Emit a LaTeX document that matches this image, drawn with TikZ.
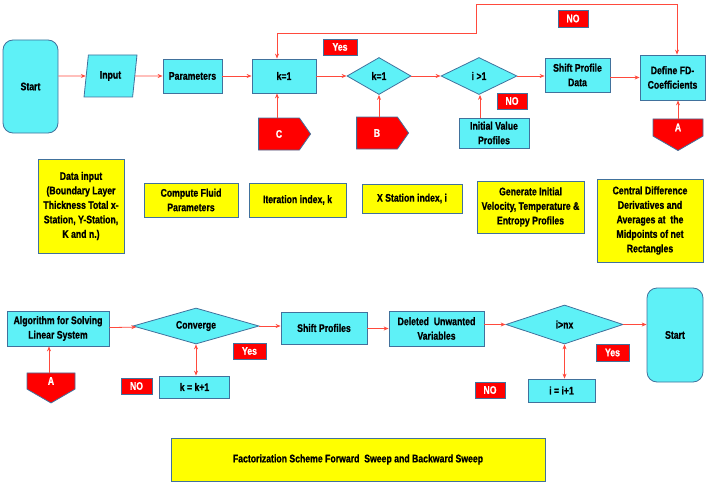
\documentclass[tikz,border=0pt]{standalone}
\usepackage{fontspec}
\setmainfont{Liberation Sans}[FakeStretch=0.79, BoldFeatures={FakeBold=0.8}]
\usetikzlibrary{shapes.geometric,shapes.symbols,arrows.meta,calc}
\definecolor{cy}{HTML}{5EF1F7}
\definecolor{bd}{HTML}{41719C}
\definecolor{yl}{HTML}{FFFF00}
\definecolor{rd}{HTML}{FF0000}
\definecolor{ar}{HTML}{FF4A3D}
\begin{document}
\begin{tikzpicture}[x=1pt,y=-1pt,
  font=\fontsize{11}{14.5}\selectfont\bfseries,
  box/.style={draw=bd, fill=cy, line width=0.8pt, inner sep=1pt, align=center},
  ybox/.style={draw=bd, fill=yl, line width=0.8pt, inner sep=1pt, align=center},
  rbox/.style={draw=bd, fill=rd, line width=0.8pt, inner sep=0pt, text=white, minimum width=32, minimum height=16},
  term/.style={box, rounded corners=10pt},
  dec/.style={draw=bd, fill=cy, line width=0.8pt, diamond, inner sep=0pt, aspect=2},
  conn/.style={draw=bd, fill=rd, line width=0.8pt, signal, inner sep=0pt, text=white},
  arr/.style={draw=ar, line width=0.8pt, -{Stealth[length=5pt,width=4pt]}},
  darr/.style={draw=ar, line width=0.8pt, {Stealth[length=5pt,width=4pt]}-{Stealth[length=5pt,width=4pt]}}
]
\useasboundingbox (0,0) rectangle (708,484);
% top row
\node[term, minimum width=55, minimum height=93] (start1) at (30.5,86.5) {Start};
\node[box, trapezium, trapezium left angle=79, trapezium right angle=101, trapezium stretches=true, minimum width=53, minimum height=42] (input) at (110.5,76) {Input};
\node[box, minimum width=59, minimum height=34] (params) at (192.5,76) {Parameters};
\node[box, minimum width=64, minimum height=34] (k1) at (284,76) {k=1};
\node[dec, minimum width=64, minimum height=37] (dk) at (379,76) {k=1};
\node[dec, minimum width=76, minimum height=37] (di) at (479,76) {i >1};
\node[box, minimum width=65, minimum height=34] (shift) at (577.5,75) {Shift Profile\\Data};
\node[box, minimum width=65, minimum height=45] (fd) at (672.5,77.5) {Define FD-\\Coefficients};
\node[conn, signal to=east, signal pointer angle=110, minimum width=52, minimum height=32] (C) at (279,134) {C};
\node[conn, signal to=east, signal pointer angle=110, minimum width=52, minimum height=32] (B) at (377,133) {B};
\node[box, minimum width=70, minimum height=30] (ivp) at (494,133) {Initial Value\\Profiles};
\node[conn, signal to=south, signal pointer angle=120, minimum width=50, minimum height=19] (A1) at (678,127.5) {\raisebox{-3pt}{A}};
\node[rbox, minimum width=34] (yes1) at (340,47) {Yes};
\node[rbox, minimum width=30, minimum height=17] (no1) at (573,18.5) {NO};
\node[rbox, minimum width=30] (no2) at (512,101) {NO};
% top arrows
\draw[arr] (start1.east |- input) -- (input);
\draw[arr] (input) -- (params);
\draw[arr] (params) -- (k1);
\draw[arr] (k1) -- (dk);
\draw[arr] (dk) -- (di);
\draw[arr] (di) -- (shift.west |- di);
\draw[arr] (shift.east |- fd) -- (fd);
\draw[arr] ([xshift=-2pt]C.north) -- ([xshift=-2pt]C.north |- k1.south);
\draw[arr] ([xshift=2pt]B.north) -- ([xshift=2pt]B.north |- dk.south);
\draw[arr] ([xshift=-14pt]ivp.north) -- ([xshift=-14pt]ivp.north |- di.south);
\draw[arr] (A1.north) -- (A1.north |- fd.south);
\draw[darr] ([xshift=-7pt]k1.north) |- (476,33) |- (677,4) -- (677,4 |- fd.north);
% yellow boxes
\node[ybox, minimum width=86, minimum height=94] (y1) at (81,206) {Data input\\(Boundary Layer\\Thickness Total x-\\Station, Y-Station,\\K and n.)};
\node[ybox, minimum width=94, minimum height=34] (y2) at (191,200) {Compute Fluid\\Parameters};
\node[ybox, minimum width=97, minimum height=34] (y3) at (297.5,200) {Iteration index, k};
\node[ybox, minimum width=100, minimum height=29] (y4) at (412,198.5) {X Station index, i};
\node[ybox, minimum width=107, minimum height=52] (y5) at (530.5,207) {Generate Initial\\Velocity, Temperature \&\\Entropy Profiles};
\node[ybox, minimum width=106, minimum height=83] (y6) at (650,220.5) {Central Difference\\Derivatives and\\Averages at~ the\\Midpoints of net\\Rectangles};
% bottom row
\node[box, minimum width=102, minimum height=35] (alg) at (58,328.5) {Algorithm for Solving\\Linear System};
\node[dec, minimum width=126, minimum height=36] (conv) at (196,326) {Converge};
\node[box, minimum width=86, minimum height=32] (shiftp) at (324,328) {Shift Profiles};
\node[box, minimum width=95, minimum height=35] (del) at (436.5,328.5) {Deleted~ Unwanted\\Variables};
\node[dec, minimum width=117, minimum height=39] (dnx) at (564.5,324.5) {i>nx};
\node[term, minimum width=56, minimum height=94] (start2) at (675,335) {Start};
\node[conn, signal to=south, signal pointer angle=120, minimum width=48, minimum height=18] (A2) at (51,381) {\raisebox{-3pt}{A}};
\node[box, minimum width=70, minimum height=22] (kk) at (194.5,387) {k = k+1};
\node[rbox, minimum width=33] (yes2) at (249.5,351) {Yes};
\node[rbox, minimum width=31] (no3) at (136.5,386) {NO};
\node[box, minimum width=67, minimum height=23] (ii) at (561.5,390.5) {i = i+1};
\node[rbox, minimum width=33, minimum height=17] (yes3) at (612.5,352.5) {Yes};
\node[rbox, minimum width=30] (no4) at (490,390) {NO};
\node[ybox, minimum width=374, minimum height=43] (fact) at (358,459.5) {Factorization Scheme Forward~ Sweep and Backward Sweep};
% bottom arrows
\draw[arr] (alg) -- (conv);
\draw[arr] (conv) -- (shiftp.west |- conv);
\draw[arr] (shiftp.east |- del) -- (del);
\draw[arr] (del.east |- dnx) -- (dnx);
\draw[arr] (dnx) -- (start2.west |- dnx);
\draw[arr] ([xshift=-2pt]A2.north) -- ([xshift=-2pt]A2.north |- alg.south);
\draw[darr] (kk.north -| conv) -- (conv.south);
\draw[darr] (ii.north -| dnx) -- (dnx.south);
\end{tikzpicture}
\end{document}
